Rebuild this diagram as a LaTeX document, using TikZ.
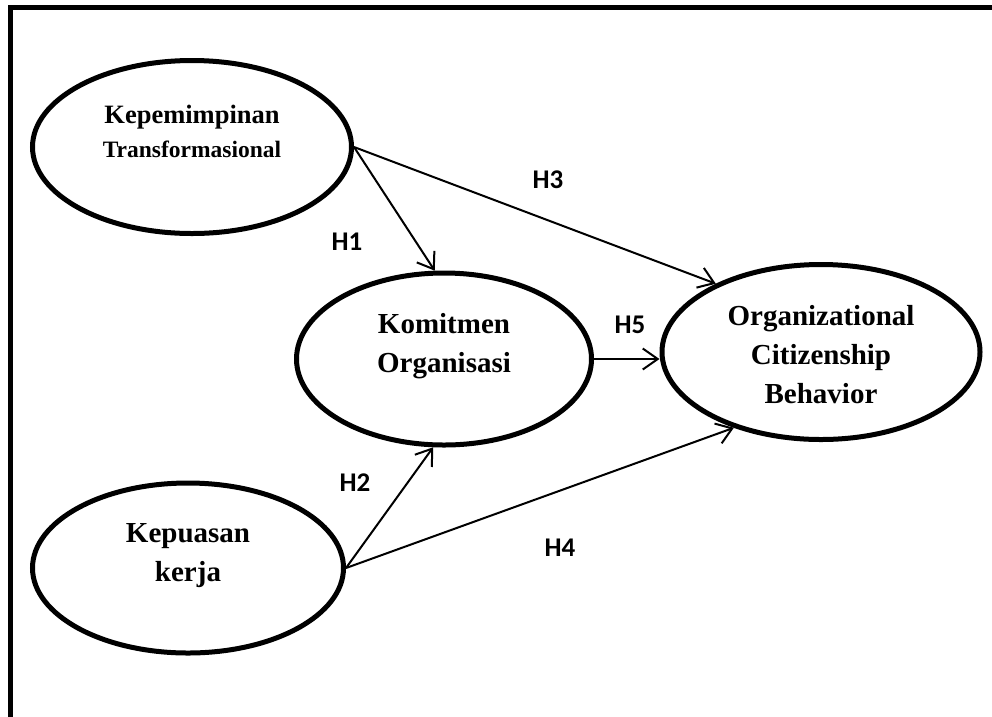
\documentclass[tikz,border=0pt]{standalone}
\usepackage{fontspec}
\setmainfont{Liberation Serif}
\newfontfamily\hfont{Carlito}
\usetikzlibrary{shapes.geometric,arrows.meta}
\begin{document}
\begin{tikzpicture}[x=1pt,y=-1pt,
  ell/.style={ellipse, draw, line width=5pt, inner sep=0pt},
  txt/.style={align=center, font=\bfseries\fontsize{29}{39}\selectfont, inner sep=0pt},
  hyp/.style={font=\hfont\bfseries\fontsize{27}{30}\selectfont, inner sep=0pt},
  link/.style={line width=2pt, -{Straight Barb[length=15pt,width=21pt,line width=2pt]}}
]
\clip (0,0) rectangle (992,716);
\fill[white] (0,0) rectangle (992,716);
% frame (right and bottom edges lie outside the picture)
\draw[line width=5pt] (10.5,760) -- (10.5,7.5) -- (1040,7.5);

% ellipses
\node[ell, minimum width=319pt, minimum height=173pt] (kep) at (192,147) {};
\node[ell, minimum width=295pt, minimum height=172pt] (kom) at (444,359) {};
\node[ell, minimum width=318pt, minimum height=175pt] (ocb) at (821,352) {};
\node[ell, minimum width=311pt, minimum height=170pt] (kpk) at (188,568) {};

% texts
\node[txt, font=\bfseries\fontsize{26.5}{34}\selectfont] (tkep) at (192,131)
  {Kepemimpinan\\{\fontsize{23.5}{34}\selectfont Transformasional}};
\node[txt] (tkom) at (444,346) {Komitmen\\Organisasi};
\node[txt, font=\bfseries\fontsize{29}{39}\selectfont] (tocb) at (821,355)
  {Organizational\\Citizenship\\Behavior};
\node[txt] (tkpk) at (188,556) {Kepuasan\\kerja};

% connectors
\draw[link] (kep.east) -- (kom.96);
\draw[link] (kep.east) -- (ocb.147);
\draw[link] (kpk.east) -- (kom.263);
\draw[link] (kpk.east) -- (ocb.221);
\draw[link] (kom.east) -- (ocb.west |- kom.east);

% hypothesis labels
\node[hyp] (h1) at (347,242) {H1};
\node[hyp] (h3) at (548,180) {H3};
\node[hyp] (h5) at (630,325) {H5};
\node[hyp] (h2) at (355,483) {H2};
\node[hyp] (h4) at (560,548) {H4};
\end{tikzpicture}
\end{document}
